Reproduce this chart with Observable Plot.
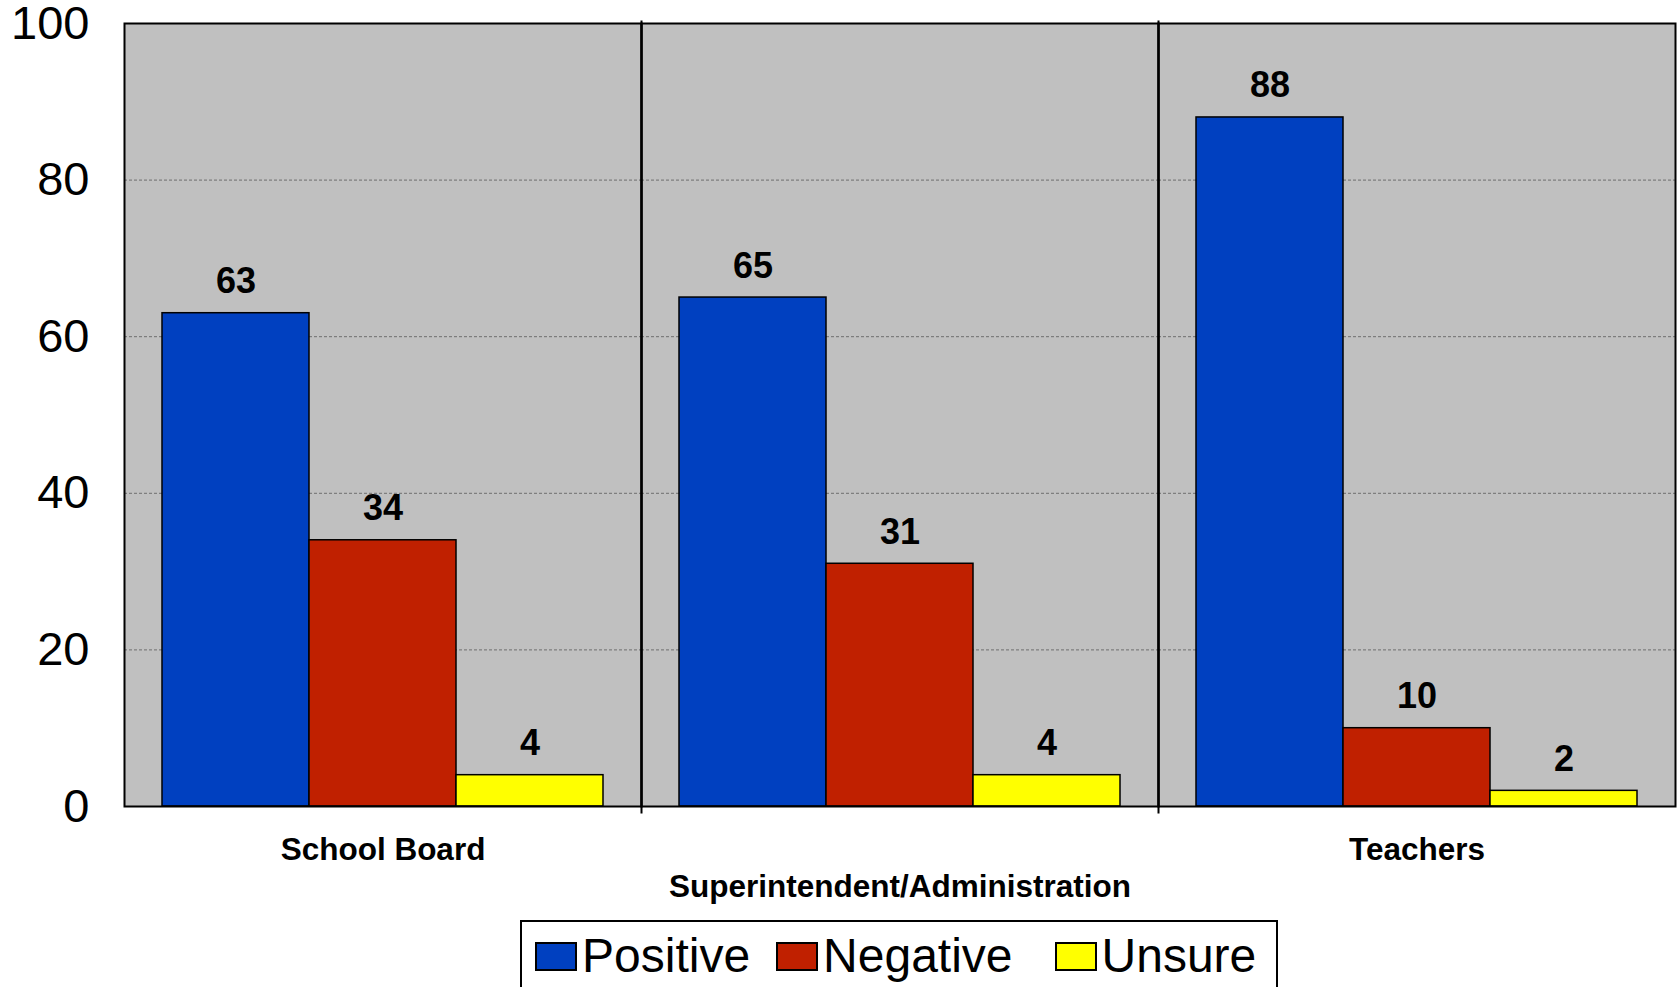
<!DOCTYPE html>
<html><head><meta charset="utf-8">
<script src="https://cdn.jsdelivr.net/npm/d3@7"></script>
<script src="https://cdn.jsdelivr.net/npm/@observablehq/plot@0.6"></script>
<style>
html,body{margin:0;padding:0;background:#fff;overflow:hidden;font-family:"Liberation Sans",Arial,sans-serif;}
#chart svg{display:block;}
#legend{box-sizing:border-box;margin:5px 0 0 520px;width:758px;height:100px;border:2px solid #000;padding:10px 0 0 13px;display:flex;align-items:flex-start;}
.item{display:flex;align-items:center;font-size:48px;line-height:48px;color:#000;}
.sw{box-sizing:border-box;width:42px;height:29px;border:2px solid #000;margin-right:5px;}
</style></head><body><div id="chart"></div><div id="legend"></div>
<script>
const categories = ["School Board", "Superintendent/Administration", "Teachers"];
const seriesNames = ["Positive", "Negative", "Unsure"];
const positive = [63, 65, 88];
const negative = [34, 31, 10];
const unsure = [4, 4, 2];
const yTicks = [0, 20, 40, 60, 80, 100];
const gridTicks = [20, 40, 60, 80];
const colors = ["#0040c0", "#c02000", "#ffff00"];
const legendGaps = [26, 42, 0];

const seriesValues = [positive, negative, unsure];
const data = categories.flatMap((c, i) => seriesNames.map((s, j) => ({category: c, series: s, value: seriesValues[j][i]})));

const dividers = categories.slice(1).map(c => Plot.frame({fx: c, anchor: "left", insetBottom: -6, insetTop: -2, stroke: "black", strokeWidth: 2}));

const chart = Plot.plot({
  width: 1680, height: 915,
  marginLeft: 123, marginRight: 5, marginTop: 23, marginBottom: 109,
  style: {fontFamily: '"Liberation Sans", Arial, sans-serif', background: "white", overflow: "visible"},
  fx: {domain: categories, padding: 0},
  x: {domain: seriesNames, paddingInner: 0, paddingOuter: 0.25, axis: null},
  y: {domain: [0, 100]},
  color: {domain: seriesNames, range: colors},
  marks: [
    Plot.frame({fill: "#c0c0c0"}),
    Plot.ruleY(gridTicks, {stroke: "#6e6e6e", strokeDasharray: "3,2", strokeWidth: 1}),
    Plot.barY(data, {fx: "category", x: "series", y: "value", fill: "series", stroke: "black", strokeWidth: 1.5}),
    Plot.text(data, {fx: "category", x: "series", y: "value", text: d => String(d.value), dy: -20, lineAnchor: "bottom", fontSize: 36, fontWeight: "bold", fill: "black"}),
    Plot.frame({stroke: "black", strokeWidth: 2}),
    ...dividers,
    Plot.axisY({ticks: yTicks, tickSize: 0, tickPadding: 35, fontSize: 47, label: null}),
    Plot.axisFx({anchor: "bottom", ticks: [categories[0], categories[2]], tickSize: 0, tickPadding: 31, fontSize: 31.5, fontWeight: "bold", label: null}),
    Plot.axisFx({anchor: "bottom", ticks: [categories[1]], tickSize: 0, tickPadding: 68, fontSize: 31.5, fontWeight: "bold", label: null})
  ]
});
document.getElementById("chart").appendChild(chart);

const legend = document.getElementById("legend");
seriesNames.forEach((s, i) => {
  const item = document.createElement("div");
  item.className = "item";
  item.style.marginRight = legendGaps[i] + "px";
  const sw = document.createElement("div");
  sw.className = "sw";
  sw.style.background = colors[i];
  const t = document.createElement("span");
  t.textContent = s;
  item.appendChild(sw);
  item.appendChild(t);
  legend.appendChild(item);
});
</script>
</body></html>
